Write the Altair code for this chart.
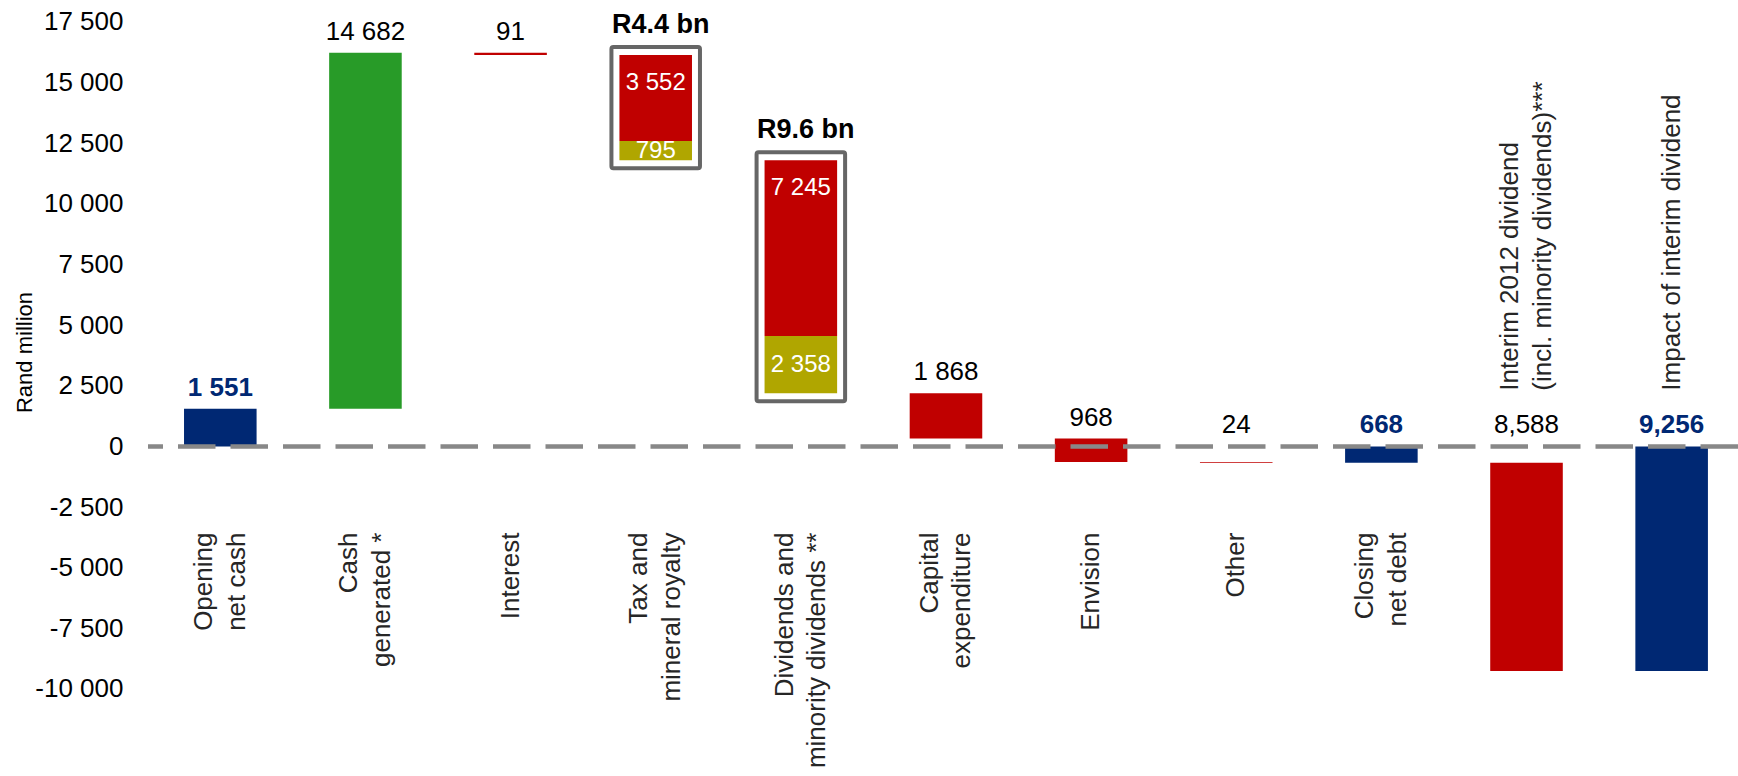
import altair as alt
import pandas as pd

# ---------------- data ----------------
categories = [
    "Opening\nnet cash",
    "Cash\ngenerated *",
    "Interest",
    "Tax and\nmineral royalty",
    "Dividends and\nminority dividends **",
    "Capital\nexpenditure",
    "Envision",
    "Other",
    "Closing\nnet debt",
    "Interim 2012 dividend\n(incl. minority dividends)***",
    "Impact of interim dividend",
]
kinds = ["total", "change", "change", "change", "change", "change",
         "change", "change", "total", "change", "total"]
main_values = [1551, 14682, -91, -3552, -7245, -1868, -968, -24, -668, -8588, -9256]
extra_values = [0, 0, 0, -795, -2358, 0, 0, 0, 0, 0, 0]
value_labels = ["1 551", "14 682", "91", "", "", "1 868", "968", "24", "668", "8,588", "9,256"]
main_inside_labels = ["", "", "", "3 552", "7 245", "", "", "", "", "", ""]
extra_inside_labels = ["", "", "", "795", "2 358", "", "", "", "", "", ""]
group_labels = ["", "", "", "R4.4 bn", "R9.6 bn", "", "", "", "", "", ""]
label_on_top = [False, False, False, False, False, False, False, False, False, True, True]
y_ticks = [-10000, -7500, -5000, -2500, 0, 2500, 5000, 7500, 10000, 12500, 15000, 17500]

# ---------------- build tables ----------------
seg_rows, box_rows, val_rows, inside_rows, cat_rows = [], [], [], [], []
running = 0
for i, cat in enumerate(categories):
    if kinds[i] == "total":
        start, end = 0, main_values[i]
        running = end
        key = "total"
    else:
        start, end = running, running + main_values[i]
        running = end
        key = "up" if main_values[i] > 0 else "down"
    seg_rows.append({"cat": cat, "y": start, "y2": end, "key": key})
    lo, hi = min(start, end), max(start, end)
    if main_inside_labels[i]:
        inside_rows.append({"cat": cat, "y": hi, "txt": main_inside_labels[i], "part": "main"})
    if extra_values[i]:
        s2, e2 = running, running + extra_values[i]
        running = e2
        seg_rows.append({"cat": cat, "y": s2, "y2": e2, "key": "extra"})
        inside_rows.append({"cat": cat, "y": (s2 + e2) / 2, "txt": extra_inside_labels[i], "part": "extra"})
        lo = min(lo, s2, e2)
        hi = max(hi, s2, e2)
    if group_labels[i]:
        box_rows.append({"cat": cat, "top": hi, "bottom": lo, "txt": group_labels[i]})
    if value_labels[i]:
        val_rows.append({"cat": cat, "y": max(hi, 0), "txt": value_labels[i], "kind": kinds[i]})
    cat_rows.append({"cat": cat, "txt": cat, "top": label_on_top[i],
                     "multi": "\n" in cat})

seg_df = pd.DataFrame(seg_rows)
val_df = pd.DataFrame(val_rows)
inside_df = pd.DataFrame(inside_rows)
cat_df = pd.DataFrame(cat_rows)

# ---------------- styling ----------------
FONT = "Liberation Sans, Arial, sans-serif"
W, H = 1590, 776
Y_DOMAIN = [-13587, 18407]
px_per_unit = H / (Y_DOMAIN[1] - Y_DOMAIN[0])
box_pad = 8 / px_per_unit
LINE_H = 32.5

box_df = pd.DataFrame(box_rows)
box_df["y"] = box_df["top"] + box_pad
box_df["y2"] = box_df["bottom"] - box_pad

NAVY, GREEN, RED, OLIVE = "#002873", "#289B28", "#C00000", "#B0A600"

x_scale = alt.Scale(paddingInner=0.5, paddingOuter=0.2277, align=0.545)
y_scale = alt.Scale(domain=Y_DOMAIN, nice=False, zero=False)
y_axis = alt.Axis(
    values=y_ticks,
    labelExpr="(datum.value < 0 ? '-' : '') + replace(format(abs(datum.value), ','), ',', ' ')",
    labelFontSize=26, labelFont=FONT, labelColor="#000000", labelPadding=25,
    domain=False, ticks=False, grid=False,
    title="Rand million", titleFont=FONT, titleFontSize=22, titleFontWeight="normal",
    titleColor="#000000", titleAngle=270, titleX=-117, titleY=352,
    titleAlign="center", titleBaseline="alphabetic",
)

X = alt.X("cat:N", sort=categories, scale=x_scale, axis=None)
Y = alt.Y("y:Q", scale=y_scale, axis=y_axis)

bars = alt.Chart(seg_df).mark_bar(stroke=None).encode(
    x=X, y=Y, y2="y2:Q",
    color=alt.Color("key:N", scale=alt.Scale(domain=["total", "up", "down", "extra"],
                                              range=[NAVY, GREEN, RED, OLIVE]), legend=None),
)

boxes = alt.Chart(box_df).mark_bar(
    fill=None, filled=False, stroke="#666666", strokeWidth=4, cornerRadius=2,
    width=alt.RelativeBandSize(1.22),
).encode(x=X, y=Y, y2="y2:Q")

zero_line = alt.Chart(pd.DataFrame({"y": [0]})).mark_rule(
    color="#888888", strokeWidth=4.5, strokeDash=[37.5, 15]
).encode(y=Y)

val_change = alt.Chart(val_df).transform_filter("datum.kind == 'change'").mark_text(
    font=FONT, fontSize=26, color="#000000", baseline="alphabetic", dy=-13
).encode(x=X, y=Y, text="txt:N")

val_total = alt.Chart(val_df).transform_filter("datum.kind == 'total'").mark_text(
    font=FONT, fontSize=26, fontWeight="bold", color=NAVY, baseline="alphabetic", dy=-13
).encode(x=X, y=Y, text="txt:N")

inside_main = alt.Chart(inside_df).transform_filter("datum.part == 'main'").mark_text(
    font=FONT, fontSize=24, color="#FFFFFF", baseline="middle", dy=28
).encode(x=X, y=Y, text="txt:N")

inside_extra = alt.Chart(inside_df).transform_filter("datum.part == 'extra'").mark_text(
    font=FONT, fontSize=24, color="#FFFFFF", baseline="middle"
).encode(x=X, y=Y, text="txt:N")

group_txt = alt.Chart(box_df).mark_text(
    font=FONT, fontSize=27, fontWeight="bold", color="#000000", baseline="alphabetic", dy=-14, dx=5
).encode(x=X, y=Y, text="txt:N")


def cat_layer(top, multi):
    flt = ("datum.top" if top else "!datum.top") + " && " + ("datum.multi" if multi else "!datum.multi")
    return alt.Chart(cat_df).transform_filter(flt).transform_calculate(
        y="2300" if top else "-3550"
    ).mark_text(
        font=FONT, fontSize=26, color="#262626", angle=270,
        align="left" if top else "right", baseline="middle",
        lineBreak="\n", lineHeight=LINE_H, dy=-LINE_H / 2 if multi else 0,
    ).encode(x=X, y=Y, text="txt:N")


chart = alt.layer(
    bars, boxes, zero_line, val_change, val_total, inside_main, inside_extra,
    group_txt, cat_layer(False, False), cat_layer(False, True),
    cat_layer(True, False), cat_layer(True, True),
).properties(
    width=W, height=H,
    autosize=alt.AutoSizeParams(type="none"),
    padding={"left": 148, "top": 0, "right": 0, "bottom": 0},
    background="#FFFFFF",
).configure_view(stroke=None)

chart.save("out.html", embed_options={"renderer": "svg", "actions": False})
